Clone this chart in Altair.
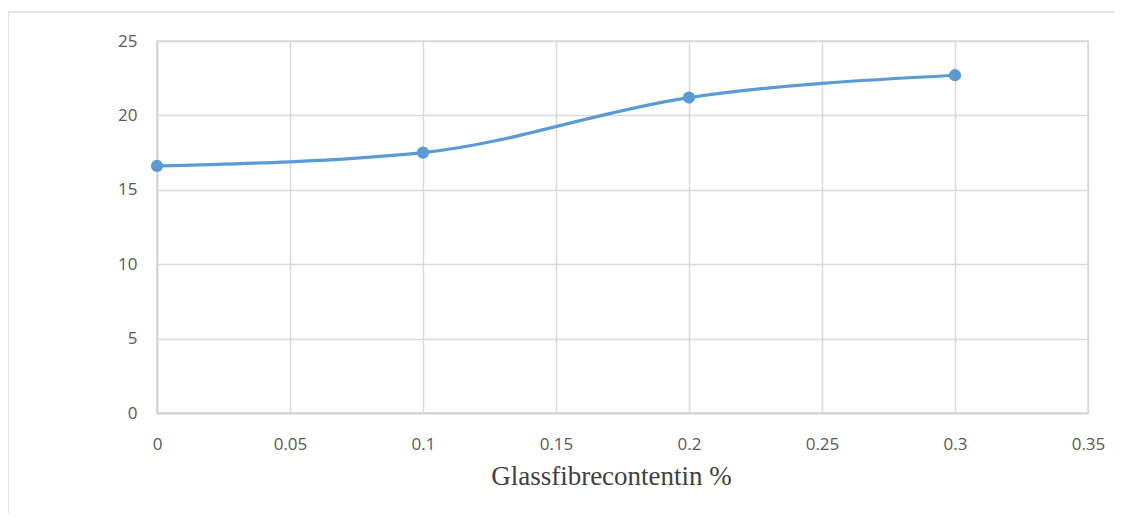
import altair as alt
import pandas as pd

glass_fibre = [0, 0.1, 0.2, 0.3]
values = [16.6, 17.5, 21.2, 22.7]
x_ticks = [0, 0.05, 0.1, 0.15, 0.2, 0.25, 0.3, 0.35]
y_ticks = [0, 5, 10, 15, 20, 25]

df = pd.DataFrame({"x": glass_fibre, "y": values})

x_enc = alt.X("x:Q", scale=alt.Scale(domain=[0, 0.35], nice=False),
              axis=alt.Axis(values=x_ticks, title="Glassfibrecontentin %",
                            labelFlush=False, titleX=454, titleAlign="center",
                            labelExpr="datum.value == 0 ? '0' : format(datum.value, '.2~f')"))
y_enc = alt.Y("y:Q", scale=alt.Scale(domain=[0, 25], nice=False),
              axis=alt.Axis(values=y_ticks, title=None))

border = alt.Chart(pd.DataFrame({"a": [0]})).mark_rect(
    filled=False, stroke="#d9d9d9", strokeWidth=1.5
).encode(x=alt.value(-149), x2=alt.value(1000), y=alt.value(-29), y2=alt.value(540))

line = alt.Chart(df).mark_line(color="#5B9BD5", strokeWidth=3.2, interpolate="monotone").encode(
    x=x_enc, y=y_enc)
points = alt.Chart(df).mark_point(filled=True, color="#5B9BD5", size=150, opacity=1).encode(
    x="x:Q", y="y:Q")

chart = alt.layer(border, line, points).properties(
    width=931, height=372,
    autosize=alt.AutoSizeParams(type="none"),
    padding={"left": 149, "top": 33, "right": 26, "bottom": 100},
).configure_view(
    stroke="#d9d9d9", strokeWidth=1.5
).configure_axis(
    grid=True, gridColor="#d9d9d9", gridWidth=1.5,
    domainColor="#d0d0d0", domainWidth=1.5,
    ticks=False,
    labelFont="Open Sans", labelFontSize=17, labelColor="#595959",
    titleFont="Liberation Serif", titleFontSize=27, titleColor="#404040", titleFontWeight="normal",
).configure_axisX(
    labelPadding=23, titlePadding=11
).configure_axisY(
    labelPadding=20
)

chart.save("out.html", embed_options={"renderer": "svg", "actions": False})
